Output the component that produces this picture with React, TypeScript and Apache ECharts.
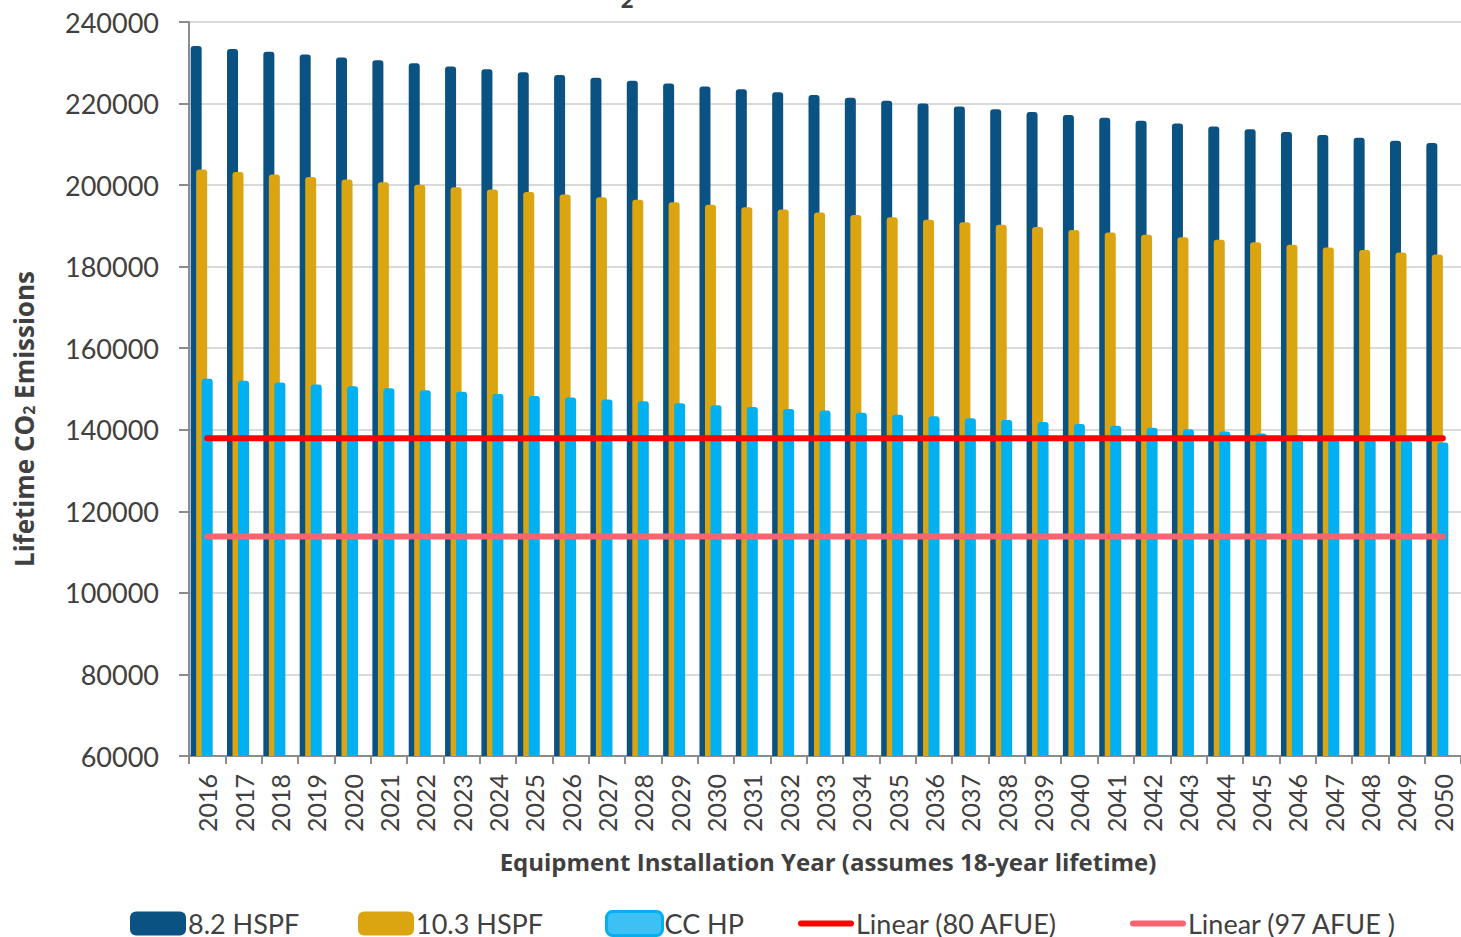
import React, { useEffect, useRef } from "react";
import * as echarts from "echarts";

const years = [
  "2016", "2017", "2018", "2019", "2020", "2021", "2022", "2023", "2024", "2025",
  "2026", "2027", "2028", "2029", "2030", "2031", "2032", "2033", "2034", "2035",
  "2036", "2037", "2038", "2039", "2040", "2041", "2042", "2043", "2044", "2045",
  "2046", "2047", "2048", "2049", "2050",
];

const hspf82 = [
  234100, 233400, 232700, 232000, 231300, 230600, 229900, 229100, 228400, 227700,
  227000, 226300, 225600, 224900, 224200, 223500, 222800, 222100, 221400, 220700,
  220000, 219300, 218600, 217900, 217200, 216500, 215800, 215100, 214400, 213700,
  213000, 212300, 211600, 210900, 210300,
];

const hspf103 = [
  203800, 203200, 202600, 202000, 201400, 200700, 200100, 199500, 198900, 198300,
  197700, 197000, 196400, 195800, 195200, 194600, 194000, 193300, 192700, 192100,
  191500, 190900, 190300, 189700, 189000, 188400, 187800, 187200, 186600, 186000,
  185400, 184700, 184100, 183500, 183000,
];

const ccHp = [
  152500, 152000, 151600, 151100, 150700, 150200, 149700, 149300, 148800, 148300,
  147900, 147400, 147000, 146500, 146000, 145600, 145100, 144700, 144200, 143700,
  143300, 142800, 142400, 141900, 141400, 141000, 140500, 140100, 139600, 139100,
  138700, 138200, 137800, 137300, 136900,
];

const afue80 = [
  137900, 137900, 137900, 137900, 137900, 137900, 137900, 137900, 137900, 137900,
  137900, 137900, 137900, 137900, 137900, 137900, 137900, 137900, 137900, 137900,
  137900, 137900, 137900, 137900, 137900, 137900, 137900, 137900, 137900, 137900,
  137900, 137900, 137900, 137900, 137900,
];

const afue97 = [
  113800, 113800, 113800, 113800, 113800, 113800, 113800, 113800, 113800, 113800,
  113800, 113800, 113800, 113800, 113800, 113800, 113800, 113800, 113800, 113800,
  113800, 113800, 113800, 113800, 113800, 113800, 113800, 113800, 113800, 113800,
  113800, 113800, 113800, 113800, 113800,
];

const seriesNames = ["8.2 HSPF", "10.3 HSPF", "CC HP", "Linear (80 AFUE)", "Linear (97 AFUE )"];

const FONT = "Lato";
const BOLD_FONT = "Open Sans";
const TEXT = "#404040";
const LINE_ICON = "path://M3,0 H53 A3,3 0 0 1 53,6 H3 A3,3 0 0 1 3,0 Z";

export default function App() {
  const ref = useRef<HTMLDivElement>(null);

  useEffect(() => {
    if (!ref.current) return;
    const chart = echarts.init(ref.current, undefined, { renderer: "svg" });
    const barW = 11;
    const bar = (name: string, data: (number | string)[], color: string) => ({
      name,
      type: "bar",
      data,
      barWidth: barW,
      barGap: "-50%",
      itemStyle: { color, borderRadius: [3, 3, 0, 0] },
    });
    const legendItems = [
      { left: 130, item: { name: seriesNames[0], icon: "roundRect" } },
      { left: 358, item: { name: seriesNames[1], icon: "roundRect" } },
      {
        left: 605,
        item: {
          name: seriesNames[2],
          icon: "roundRect",
          itemStyle: { color: "#3dc0f4", borderColor: "#00b0f0", borderWidth: 3 },
        },
      },
      { left: 798, item: { name: seriesNames[3], icon: LINE_ICON, itemStyle: { color: "#ff0000" } } },
      { left: 1130, item: { name: seriesNames[4], icon: LINE_ICON, itemStyle: { color: "#f9646f" } } },
    ];
    chart.setOption({
      animation: false,
      textStyle: { fontFamily: FONT },
      grid: { left: 189, right: -6, top: 22, bottom: 181, containLabel: false },
      xAxis: {
        type: "category",
        data: years,
        boundaryGap: true,
        axisLine: { lineStyle: { color: "#8c8c8c", width: 2 } },
        axisTick: { show: true, length: 8, lineStyle: { color: "#8c8c8c", width: 2 } },
        axisLabel: {
          rotate: 90,
          interval: 0,
          margin: 18,
          fontSize: 25,
          color: TEXT,
          fontFamily: FONT,
        },
        splitLine: { show: false },
      },
      yAxis: {
        type: "value",
        min: 60000,
        max: 240000,
        interval: 20000,
        axisLine: { show: true, lineStyle: { color: "#8c8c8c", width: 2 } },
        axisTick: { show: true, length: 10, lineStyle: { color: "#8c8c8c", width: 2 } },
        axisLabel: {
          margin: 30,
          fontSize: 27,
          color: TEXT,
          fontFamily: FONT,
          formatter: (v: number) => String(v),
        },
        splitLine: { lineStyle: { color: "#d9d9d9", width: 2 } },
      },
      legend: legendItems.map((l) => ({
        left: l.left,
        top: 910,
        padding: 0,
        itemWidth: 56,
        itemHeight: 24,
        textStyle: {
          fontSize: 27,
          lineHeight: 24,
          color: TEXT,
          fontFamily: FONT,
          padding: [0, 0, 0, -3],
        },
        data: [l.item],
      })),
      graphic: [
        {
          type: "text",
          x: 627,
          y: 10,
          style: {
            text: "2",
            fontSize: 22,
            fontWeight: "bold",
            fill: TEXT,
            fontFamily: BOLD_FONT,
            align: "center",
            verticalAlign: "bottom",
          },
        },
        {
          type: "text",
          x: 24,
          y: 419,
          rotation: Math.PI / 2,
          style: {
            text: "{a|Lifetime CO}{s|2}{a| Emissions}",
            align: "center",
            verticalAlign: "middle",
            fill: TEXT,
            fontFamily: BOLD_FONT,
            rich: {
              a: { fontSize: 26, fontWeight: "bold", fill: TEXT, fontFamily: BOLD_FONT },
              s: {
                fontSize: 16,
                fontWeight: "bold",
                fill: TEXT,
                fontFamily: BOLD_FONT,
                padding: [10, 0, 0, 0],
              },
            },
          },
        },
        {
          type: "text",
          x: 828,
          y: 861,
          style: {
            text: "Equipment Installation Year (assumes 18-year lifetime)",
            align: "center",
            verticalAlign: "middle",
            fontSize: 24,
            fontWeight: "bold",
            fill: TEXT,
            fontFamily: BOLD_FONT,
          },
        },
      ],
      series: [
        bar(seriesNames[0], hspf82, "#0a5282"),
        bar(seriesNames[1], hspf103, "#dba511"),
        bar(seriesNames[2], ccHp, "#00b0f0"),
        bar("pad1", years.map(() => "-"), "transparent"),
        bar("pad2", years.map(() => "-"), "transparent"),
        {
          name: seriesNames[3],
          type: "line",
          data: afue80,
          symbol: "none",
          showSymbol: false,
          z: 5,
          lineStyle: { color: "#ff0000", width: 6, cap: "round" },
          itemStyle: { color: "#ff0000" },
        },
        {
          name: seriesNames[4],
          type: "line",
          data: afue97,
          symbol: "none",
          showSymbol: false,
          z: 5,
          lineStyle: { color: "#f9646f", width: 6, cap: "round" },
          itemStyle: { color: "#f9646f" },
        },
      ],
    });
    return () => chart.dispose();
  }, []);

  return (
    <div
      ref={ref}
      style={{ position: "fixed", left: 0, top: 0, width: 1461, height: 937, background: "#fff" }}
    />
  );
}
